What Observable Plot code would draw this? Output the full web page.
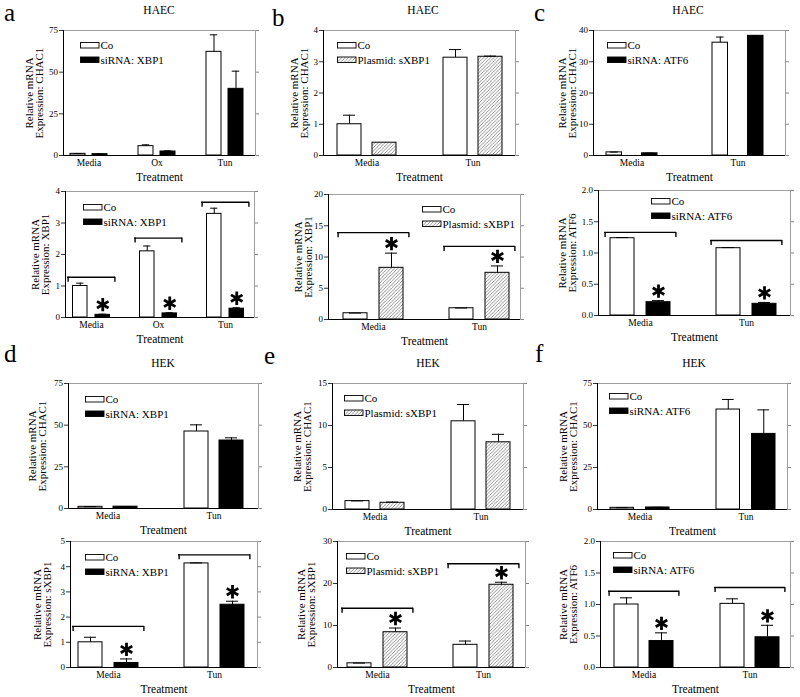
<!DOCTYPE html>
<html><head><meta charset="utf-8">
<script src="https://cdn.jsdelivr.net/npm/d3@7"></script>
<script src="https://cdn.jsdelivr.net/npm/@observablehq/plot@0.6"></script>
<style>
body{margin:0;background:#fff;}
#fig{position:relative;width:800px;height:697px;overflow:hidden;font-family:"Liberation Serif",serif;background:#fff;}
.panel{position:absolute;}
.panel svg, .panel svg text{font-family:"Liberation Serif","Times New Roman",serif !important;font-weight:normal;}
</style></head><body><div id="fig"></div>
<script>
// ---------- categories / tick labels ----------
const groups3 = ["Media", "Ox", "Tun"];
const groups2 = ["Media", "Tun"];
const ticks75 = [0, 25, 50, 75];
const ticks4 = [0, 1, 2, 3, 4];
const ticks5 = [0, 1, 2, 3, 4, 5];
const ticks15 = [0, 5, 10, 15];
const ticks20 = [0, 5, 10, 15, 20];
const ticks30 = [0, 10, 20, 30];
const ticks40 = [0, 10, 20, 30, 40];
const ticks2 = [0, 0.5, 1.0, 1.5, 2.0];

// ---------- a: HAEC, siRNA XBP1 ----------
const aChac1Co = [1.0, 5.6, 62.2], aChac1CoErr = [0.2, 0.8, 10.2];
const aChac1Tr = [0.8, 2.4, 40.0], aChac1TrErr = [0.1, 0.4, 10.6];
const aXbp1Co = [1.0, 2.1, 3.29], aXbp1CoErr = [0.09, 0.17, 0.18];
const aXbp1Tr = [0.085, 0.13, 0.28], aXbp1TrErr = [0.02, 0.02, 0.03];
const aXbp1Bracket = [1.28, 2.52, 3.66];
// ---------- b: HAEC, plasmid sXBP1 ----------
const bChac1Co = [1.0, 3.13], bChac1CoErr = [0.29, 0.26];
const bChac1Tr = [0.41, 3.16], bChac1TrErr = [0, 0.02];
const bXbp1Co = [1.0, 1.8], bXbp1CoErr = [0.03, 0.04];
const bXbp1Tr = [8.27, 7.47], bXbp1TrErr = [2.35, 1.1];
const bXbp1Bracket = [13.9, 11.7];
// ---------- c: HAEC, siRNA ATF6 ----------
const cChac1Co = [1.0, 36.1], cChac1CoErr = [0.1, 1.8];
const cChac1Tr = [0.7, 38.3], cChac1TrErr = [0.05, 0.1];
const cAtf6Co = [1.237, 1.077], cAtf6CoErr = [0.01, 0.01];
const cAtf6Tr = [0.213, 0.187], cAtf6TrErr = [0.025, 0.022];
const cAtf6Bracket = [1.33, 1.2];
// ---------- d: HEK, siRNA XBP1 ----------
const dChac1Co = [1.0, 46.2], dChac1CoErr = [0.1, 4.0];
const dChac1Tr = [1.1, 40.8], dChac1TrErr = [0.1, 1.6];
const dSxbp1Co = [1.0, 4.13], dSxbp1CoErr = [0.2, 0.02];
const dSxbp1Tr = [0.18, 2.49], dSxbp1TrErr = [0.16, 0.14];
const dSxbp1Bracket = [1.63, 4.47];
// ---------- e: HEK, plasmid sXBP1 ----------
const eChac1Co = [1.0, 10.5], eChac1CoErr = [0.02, 2.0];
const eChac1Tr = [0.8, 8.0], eChac1TrErr = [0.08, 0.95];
const eSxbp1Co = [1.0, 5.4], eSxbp1CoErr = [0.05, 0.9];
const eSxbp1Tr = [8.4, 19.7], eSxbp1TrErr = [1.0, 0.6];
const eSxbp1Bracket = [14.1, 24.7];
// ---------- f: HEK, siRNA ATF6 ----------
const fChac1Co = [1.0, 59.5], fChac1CoErr = [0.1, 6.0];
const fChac1Tr = [1.2, 45.0], fChac1TrErr = [0.1, 14.3];
const fAtf6Co = [1.0, 1.01], fAtf6CoErr = [0.106, 0.08];
const fAtf6Tr = [0.42, 0.48], fAtf6TrErr = [0.13, 0.19];
const fAtf6Bracket = [1.21, 1.27];

const yl = (g) => "Relative mRNA\nExpression: " + g;
const f1 = d3.format(".1f");
const f0 = d3.format("d");

const panels = [
  {groups: groups3, co: aChac1Co, coErr: aChac1CoErr, tr: aChac1Tr, trErr: aChac1TrErr, yMax: 75, ticks: ticks75, label: yl("CHAC1"), kind: "si", legend: "siRNA: XBP1",
   frame: {l: 63, t: 30, W: 192, H: 125}, lay: {step: 68, bw: 47, off: 2, barW: 15, gap: 7}, ylDx: -28.5, leg: [17, 12]},
  {groups: groups3, co: aXbp1Co, coErr: aXbp1CoErr, tr: aXbp1Tr, trErr: aXbp1TrErr, br: aXbp1Bracket, stars: true, yMax: 4, ticks: ticks4, label: yl("XBP1"), kind: "si", legend: "siRNA: XBP1",
   frame: {l: 65, t: 191, W: 189, H: 126}, lay: {step: 67, bw: 48, off: 2, barW: 14.5, gap: 8}, ylDx: -25, leg: [18, 13]},
  {groups: groups2, co: bChac1Co, coErr: bChac1CoErr, tr: bChac1Tr, trErr: bChac1TrErr, yMax: 4, ticks: ticks4, label: yl("CHAC1"), kind: "pl", legend: "Plasmid: sXBP1",
   frame: {l: 323, t: 30, W: 192, H: 125}, lay: {step: 106, bw: 71, off: 8, barW: 24, gap: 11}, ylDx: -24, leg: [14, 12]},
  {groups: groups2, co: bXbp1Co, coErr: bXbp1CoErr, tr: bXbp1Tr, trErr: bXbp1TrErr, br: bXbp1Bracket, stars: true, yMax: 20, ticks: ticks20, label: yl("XBP1"), kind: "pl", legend: "Plasmid: sXBP1",
   frame: {l: 328, t: 194, W: 192, H: 125}, lay: {step: 106, bw: 72, off: 9, barW: 24, gap: 12}, ylDx: -25, leg: [94, 12]},
  {groups: groups2, co: cChac1Co, coErr: cChac1CoErr, tr: cChac1Tr, trErr: cChac1TrErr, yMax: 40, ticks: ticks40, label: yl("CHAC1"), kind: "si", legend: "siRNA: ATF6",
   frame: {l: 593, t: 30, W: 192, H: 125}, lay: {step: 106, bw: 72, off: 2.5, barW: 15.5, gap: 20}, ylDx: -26, leg: [14, 12]},
  {groups: groups2, co: cAtf6Co, coErr: cAtf6CoErr, tr: cAtf6Tr, trErr: cAtf6TrErr, br: cAtf6Bracket, stars: true, yMax: 2, ticks: ticks2, fmt: f1, label: yl("ATF6"), kind: "si", legend: "siRNA: ATF6",
   frame: {l: 598, t: 190, W: 192, H: 125}, lay: {step: 106, bw: 72, off: 6, barW: 24, gap: 12}, ylDx: -31, leg: [53, 8]},
  {groups: groups2, co: dChac1Co, coErr: dChac1CoErr, tr: dChac1Tr, trErr: dChac1TrErr, yMax: 75, ticks: ticks75, label: yl("CHAC1"), kind: "si", legend: "siRNA: XBP1",
   frame: {l: 68, t: 383, W: 190, H: 125}, lay: {step: 106, bw: 71, off: 4, barW: 24, gap: 11}, ylDx: -31, leg: [17, 13]},
  {groups: groups2, co: dSxbp1Co, coErr: dSxbp1CoErr, tr: dSxbp1Tr, trErr: dSxbp1TrErr, br: dSxbp1Bracket, stars: true, yMax: 5, ticks: ticks5, label: yl("sXBP1"), kind: "si", legend: "siRNA: XBP1",
   frame: {l: 70, t: 541, W: 187, H: 126}, lay: {step: 106, bw: 72, off: 2, barW: 24, gap: 12}, ylDx: -27.5, leg: [15, 13]},
  {groups: groups2, co: eChac1Co, coErr: eChac1CoErr, tr: eChac1Tr, trErr: eChac1TrErr, yMax: 15, ticks: ticks15, label: yl("CHAC1"), kind: "pl", legend: "Plasmid: sXBP1",
   frame: {l: 332, t: 383, W: 191, H: 126}, lay: {step: 106, bw: 71, off: 7, barW: 24, gap: 11}, ylDx: -30, leg: [12, 12]},
  {groups: groups2, co: eSxbp1Co, coErr: eSxbp1CoErr, tr: eSxbp1Tr, trErr: eSxbp1TrErr, br: eSxbp1Bracket, stars: true, yMax: 30, ticks: ticks30, label: yl("sXBP1"), kind: "pl", legend: "Plasmid: sXBP1",
   frame: {l: 337, t: 541, W: 188, H: 126}, lay: {step: 106, bw: 72, off: 4, barW: 24, gap: 12}, ylDx: -31, leg: [9, 12]},
  {groups: groups2, co: fChac1Co, coErr: fChac1CoErr, tr: fChac1Tr, trErr: fChac1TrErr, yMax: 75, ticks: ticks75, label: yl("CHAC1"), kind: "si", legend: "siRNA: ATF6",
   frame: {l: 597, t: 383, W: 190, H: 126}, lay: {step: 106, bw: 71, off: 7, barW: 23.5, gap: 12}, ylDx: -29, leg: [12, 10]},
  {groups: groups2, co: fAtf6Co, coErr: fAtf6CoErr, tr: fAtf6Tr, trErr: fAtf6TrErr, br: fAtf6Bracket, stars: true, yMax: 2, ticks: ticks2, fmt: f1, label: yl("ATF6"), kind: "si", legend: "siRNA: ATF6",
   frame: {l: 600, t: 541, W: 190, H: 126}, lay: {step: 106, bw: 71, off: 8, barW: 24, gap: 11}, ylDx: -32, leg: [13, 11]}
];

const headers = [
  {text: "HAEC", x: 159, y: 10}, {text: "HAEC", x: 423, y: 10}, {text: "HAEC", x: 688, y: 10},
  {text: "HEK", x: 163, y: 363}, {text: "HEK", x: 428, y: 363}, {text: "HEK", x: 694, y: 363}
];
const letters = [
  {text: "a", x: 4, y: 21}, {text: "b", x: 272, y: 26}, {text: "c", x: 534, y: 21},
  {text: "d", x: 4, y: 362}, {text: "e", x: 264, y: 364}, {text: "f", x: 535, y: 362}
];

const fig = document.getElementById("fig");
const FONT = '"Liberation Serif", "Times New Roman", serif';
const mL = 62, mR = 14, mT = 8, mB = 34;

function build(p) {
  const n = p.groups.length;
  const {W, H} = p.frame;
  const {step, bw, off, barW, gap} = p.lay;
  const ov = (bw - 2 * barW - gap) / 2;
  const pi = 1 - bw / step;
  const po = (W / step - n + pi) / 2;
  const extra = 2 * po * step;
  const align = extra > 0 ? Math.min(1, Math.max(0, off / extra)) : 0.5;
  const rows = p.groups.map((g, i) => ({g, co: p.co[i], coErr: p.coErr[i], tr: p.tr[i], trErr: p.trErr[i], br: p.br ? p.br[i] : null}));
  const coC = -bw / 2 + ov + barW / 2;
  const trC = bw / 2 - ov - barW / 2;
  const cap = barW * 0.5;
  const trFill = p.kind === "si" ? "black" : "url(#hatch)";
  const txt = {fontFamily: FONT, fontWeight: "normal"};
  const marks = [
    Plot.frame({stroke: "#888", strokeWidth: 0.8}),
    Plot.barY(rows, {x: "g", y: "co", fill: "white", stroke: "black", strokeWidth: 1, insetLeft: ov, insetRight: bw - ov - barW}),
    Plot.barY(rows, {x: "g", y: "tr", fill: trFill, stroke: "black", strokeWidth: 1, insetLeft: ov + barW + gap, insetRight: ov}),
    Plot.ruleX(rows.filter(d => d.coErr > 0), {x: "g", y1: "co", y2: d => d.co + d.coErr, dx: coC, stroke: "black", strokeWidth: 1}),
    Plot.tickY(rows.filter(d => d.coErr > 0), {x: "g", y: d => d.co + d.coErr, insetLeft: ov + barW / 2 - cap / 2, insetRight: bw - ov - barW / 2 - cap / 2, stroke: "black", strokeWidth: 1}),
    Plot.ruleX(rows.filter(d => d.trErr > 0), {x: "g", y1: "tr", y2: d => d.tr + d.trErr, dx: trC, stroke: "black", strokeWidth: 1}),
    Plot.tickY(rows.filter(d => d.trErr > 0), {x: "g", y: d => d.tr + d.trErr, insetLeft: bw - ov - barW / 2 - cap / 2, insetRight: ov + barW / 2 - cap / 2, stroke: "black", strokeWidth: 1}),
    Plot.ruleY([0], {stroke: "black", strokeWidth: 1}),
    Plot.frame({anchor: "left", stroke: "black", strokeWidth: 1}),
    Plot.axisY({ticks: p.ticks, tickSize: 4, tickPadding: 1.5, tickFormat: p.fmt || f0, fontSize: 9, label: null, strokeWidth: 0.8, ...txt}),
    Plot.axisY({anchor: "right", ticks: p.ticks, tickSize: 3, tickFormat: () => "", label: null, stroke: "#666", strokeWidth: 0.8}),
    Plot.axisX({tickSize: 0, tickPadding: 4, fontSize: 9.5, label: null, ...txt}),
    Plot.text(["Treatment"], {frameAnchor: "bottom", dy: 21.5, fontSize: 11.5, lineAnchor: "middle", textAnchor: "middle", ...txt}),
    Plot.text([p.label], {frameAnchor: "left", rotate: -90, dx: p.ylDx, fontSize: 11, lineHeight: 0.9, textAnchor: "middle", lineAnchor: "middle", ...txt})
  ];
  if (p.br) {
    marks.push(
      Plot.tickY(rows, {x: "g", y: "br", stroke: "black", strokeWidth: 1.4}),
      Plot.ruleX(rows, {x: "g", y1: "br", y2: "br", dx: -bw / 2 + 0.6, insetBottom: -5, stroke: "black", strokeWidth: 1.4}),
      Plot.ruleX(rows, {x: "g", y1: "br", y2: "br", dx: bw / 2 - 0.6, insetBottom: -5, stroke: "black", strokeWidth: 1.4})
    );
  }
  if (p.stars) {
    marks.push(Plot.dot(rows, {x: "g", y: d => d.tr + d.trErr, dx: trC, dy: -9.5, symbol: "asterisk", r: 6.3, stroke: "black", strokeWidth: 2.8}));
  }
  const svg = Plot.plot({
    width: mL + W + mR, height: mT + H + mB,
    marginLeft: mL, marginRight: mR, marginTop: mT, marginBottom: mB,
    style: `font-family: ${FONT}; font-weight: normal; color: black; background: transparent; overflow: visible;`,
    x: {domain: p.groups, paddingInner: pi, paddingOuter: po, align, round: false, axis: null},
    y: {domain: [0, p.yMax], axis: null},
    marks
  });
  const div = document.createElement("div");
  div.className = "panel";
  div.style.left = (p.frame.l - mL) + "px";
  div.style.top = (p.frame.t - mT) + "px";
  div.style.width = (mL + W + mR) + "px";
  div.appendChild(svg);
  fig.appendChild(div);
}
panels.forEach(build);

// overlay: pattern, titles, letters, legends
const ovl = d3.select(fig).append("svg").attr("width", 800).attr("height", 697)
  .style("position", "absolute").style("left", 0).style("top", 0).style("pointer-events", "none")
  .style("font-family", FONT);
const pat = ovl.append("defs").append("pattern").attr("id", "hatch").attr("patternUnits", "userSpaceOnUse")
  .attr("width", 3.4).attr("height", 3.4);
pat.append("rect").attr("width", 3.4).attr("height", 3.4).attr("fill", "white");
pat.append("path").attr("d", "M-0.9,0.9L0.9,-0.9M0,3.4L3.4,0M2.5,4.3L4.3,2.5").attr("stroke", "#444").attr("stroke-width", 0.6);

ovl.selectAll("text.h").data(headers).join("text").attr("class", "h")
  .attr("x", d => d.x).attr("y", d => d.y).attr("text-anchor", "middle").attr("dominant-baseline", "central")
  .attr("font-size", 11.5).text(d => d.text);
ovl.selectAll("text.l").data(letters).join("text").attr("class", "l")
  .attr("x", d => d.x).attr("y", d => d.y).attr("font-size", 25).text(d => d.text);

panels.forEach(p => {
  const x = p.frame.l + p.leg[0], y = p.frame.t + p.leg[1];
  const g = ovl.append("g").attr("transform", `translate(${x},${y})`);
  const items = [{fill: "white", label: "Co"}, {fill: p.kind === "si" ? "black" : "url(#hatch)", label: p.legend}];
  items.forEach((it, i) => {
    g.append("rect").attr("x", 0.5).attr("y", i * 14.5 + 0.5).attr("width", 18.5).attr("height", 5.5)
      .attr("fill", it.fill).attr("stroke", "black").attr("stroke-width", 0.9);
    g.append("text").attr("x", 20.5).attr("y", i * 14.5 + 3.3).attr("dominant-baseline", "central")
      .attr("font-size", 11).text(it.label);
  });
});
</script></body></html>
